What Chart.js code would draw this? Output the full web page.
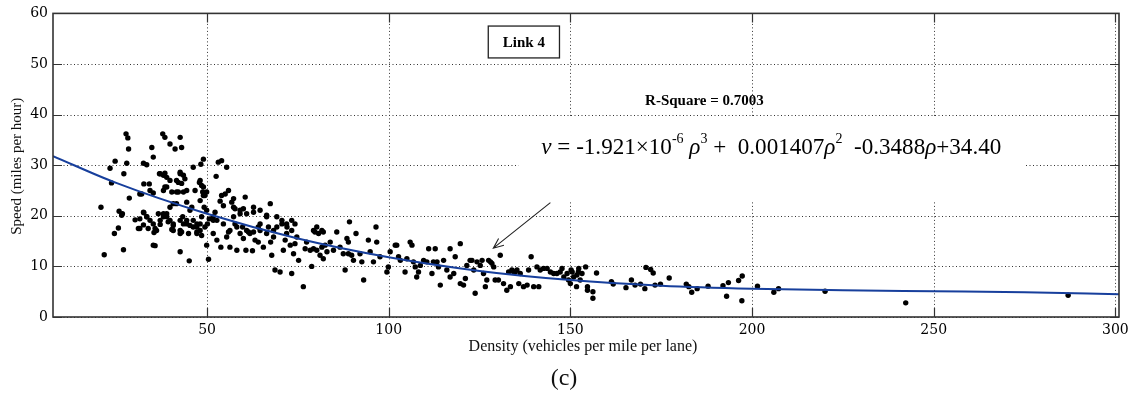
<!DOCTYPE html>
<html>
<head>
<meta charset="utf-8">
<script src="https://cdn.jsdelivr.net/npm/chart.js@4"></script>
<style>
  body { margin: 0; background: #fff; }
</style>
</head>
<body>
<canvas id="speedChart" width="1136" height="399"></canvas>
<script>
// tick labels
var xTicks = [50, 100, 150, 200, 250, 300];
var yTicks = [0, 10, 20, 30, 40, 50, 60];

// observed density / speed points
var density = [
  27.7, 28.2, 28.4, 27.9, 27.1, 23.3, 24.7, 32.5, 33.4, 32.6,
  34.8, 35.2, 36.9, 38.0, 38.9, 38.4, 37.8, 39.8, 41.2, 42.6,
  42.6, 43.0, 42.1, 43.5, 43.0, 46.2, 48.1, 49.0, 48.3, 48.5,
  52.5, 53.1, 54.0, 55.4, 57.3,
  20.8, 21.7, 24.5, 25.6, 25.8, 26.7, 27.0, 28.6, 30.2, 31.1,
  31.5, 32.6, 32.5, 33.4, 34.1, 34.3, 35.2, 35.4, 35.7, 36.1,
  36.6, 37.1, 38.0, 38.4, 38.9, 39.3, 40.3, 40.7, 40.7, 41.6,
  42.6, 43.0, 42.6, 43.3, 44.4, 45.1, 45.3, 45.8, 46.2, 47.2,
  47.2, 48.1, 48.5, 49.0, 49.2, 49.9, 50.1, 49.9, 50.4, 50.6,
  51.7, 52.2, 51.7, 52.7, 53.6, 53.8, 54.0, 54.5, 55.4, 55.9,
  55.9, 56.3, 56.8, 57.3, 57.3, 57.7, 58.2, 59.1, 59.8, 60.0,
  60.5, 60.7, 60.9, 61.4, 61.8, 62.5, 62.8, 63.2, 64.1, 64.1,
  64.6, 65.5, 66.4, 66.9, 67.4, 67.5, 67.8, 68.3, 68.7, 69.2,
  70.1, 70.6, 71.0, 71.5, 71.9, 72.9, 73.3, 73.3, 73.8, 74.2,
  74.7, 75.2,
  38.0, 38.9, 37.1, 39.8, 40.7, 42.6, 43.5, 44.4, 45.3, 46.2,
  47.2, 48.1, 49.4, 40.7, 42.6, 44.9, 47.2, 48.5, 51.7, 52.7,
  54.5, 56.3, 58.2, 59.1, 60.9, 62.8, 64.6, 66.4, 68.3, 55.0,
  57.7, 59.1, 60.0, 62.8, 64.6, 66.4, 69.2, 70.6, 72.0, 37.1,
  38.4, 39.8, 38.9, 38.0, 40.3, 42.1, 41.6, 39.8, 44.4, 42.6,
  43.5, 41.6, 43.9, 44.4, 46.7, 47.9, 49.0, 48.8, 49.4, 48.1,
  49.9, 32.0, 32.5, 31.5, 33.4, 34.3, 35.2, 31.5, 33.8, 35.7,
  35.2, 26.5, 23.7,
  71.9, 73.3, 74.2, 76.5, 77.0, 77.4, 78.4, 78.8, 79.3, 79.7,
  80.2, 80.7, 81.6, 82.0, 79.3, 80.2, 81.1, 82.0, 81.6, 82.5,
  83.0, 83.9, 84.8, 85.7, 86.6, 87.5, 88.0, 88.5, 88.9, 88.9,
  89.2, 89.8, 90.3, 91.0, 92.1, 92.6, 93.1, 94.4, 94.9, 95.8,
  96.5, 96.7, 97.6, 99.5, 99.9, 100.4, 101.8, 102.2, 102.7, 103.2,
  104.5, 105.0, 105.9, 106.4, 106.8, 107.3, 107.7, 108.2, 108.7, 109.6,
  110.5, 111.0, 111.9, 112.3, 112.8, 113.3, 113.7, 114.2, 115.1, 116.0,
  116.9, 116.9, 117.9, 118.3, 119.7, 119.7, 120.6, 121.1, 121.5, 122.4,
  122.9, 123.4, 123.8, 124.3, 125.2, 125.7, 126.1, 126.6, 127.0, 127.5,
  128.0, 128.4, 128.9, 129.3, 130.2, 130.7, 131.6, 132.5, 133.0, 133.5,
  133.9, 134.4, 134.8, 135.3, 135.8, 136.2, 137.1, 138.1, 138.5, 139.2,
  139.9, 140.8, 141.3, 141.7, 142.6, 143.6, 144.5, 145.4, 146.3, 147.2,
  147.7, 148.2, 149.1, 149.5, 150.0, 150.5, 150.9, 151.8, 152.3,
  150.2, 152.2, 152.7, 151.7, 153.2, 154.2, 154.7, 154.7, 156.2, 156.2,
  157.2, 161.3, 161.8, 165.3, 166.8, 167.8, 169.3, 170.8, 172.1, 172.8,
  170.5, 173.3, 174.8, 177.2, 181.9, 182.6, 183.4, 184.9, 187.9, 192.0,
  193.5, 193.0, 196.3, 197.3, 197.2, 201.5, 206.0, 207.3, 220.1, 242.3,
  287.0
];
var speed = [
  36.2, 35.4, 33.2, 30.4, 28.3, 29.4, 30.8, 30.4, 30.1, 26.3,
  33.5, 31.6, 28.3, 28.0, 27.6, 35.5, 36.2, 34.2, 33.2, 35.5,
  28.3, 33.5, 26.6, 24.7, 26.4, 29.6, 27.0, 31.2, 30.2, 26.0,
  27.8, 30.6, 30.9, 29.6, 23.4,
  21.7, 12.3, 16.5, 17.6, 20.9, 20.4, 13.3, 23.5, 19.2, 17.5,
  24.3, 20.6, 18.2, 19.8, 26.3, 25.0, 24.5, 16.7, 14.1, 17.1,
  20.4, 18.3, 19.8, 25.7, 20.4, 18.8, 17.3, 18.1, 22.4, 24.7,
  16.5, 16.8, 12.9, 19.8, 18.4, 11.1, 21.1, 21.7, 17.8, 18.4,
  16.5, 17.1, 19.8, 24.0, 21.7, 24.7, 18.4, 14.2, 11.4, 19.4,
  19.1, 20.7, 16.5, 15.2, 22.9, 13.8, 24.0, 22.0, 15.8, 25.0,
  16.8, 13.8, 22.7, 21.7, 19.8, 18.4, 13.2, 20.4, 17.8, 15.5,
  23.7, 13.2, 20.4, 16.8, 16.5, 13.1, 21.7, 15.2, 17.8, 14.8,
  18.4, 13.8, 20.1, 17.8, 22.4, 14.8, 12.2, 17.1, 9.3, 17.8,
  8.9, 18.4, 13.2, 15.2, 16.5, 14.2, 8.6, 19.1, 12.5, 18.4,
  15.8, 11.2,
  20.4, 19.8, 19.1, 19.1, 18.4, 19.1, 18.4, 19.1, 18.1, 19.1,
  17.8, 18.4, 17.8, 17.1, 17.1, 16.5, 16.8, 16.1, 19.8, 19.1,
  18.4, 17.1, 17.8, 16.5, 17.1, 16.8, 17.1, 16.5, 15.8, 24.3,
  21.4, 21.1, 21.4, 20.7, 21.1, 19.8, 19.8, 19.1, 17.8, 28.3,
  28.4, 27.0, 25.7, 25.0, 24.7, 24.7, 22.4, 21.7, 22.7, 28.6,
  28.0, 27.0, 27.3, 25.0, 25.0, 26.6, 25.7, 24.7, 24.0, 23.0,
  21.1, 24.3, 20.7, 19.4, 19.8, 19.1, 18.4, 17.5, 17.5, 17.5,
  14.2, 20.1, 26.5,
  18.4, 17.1, 14.5, 6.0, 13.5, 14.8, 13.2, 10.0, 17.1, 16.8,
  17.8, 16.5, 17.1, 16.8, 13.5, 13.2, 12.2, 11.5, 13.8, 14.2,
  12.9, 14.8, 13.2, 16.8, 13.8, 12.5, 9.3, 15.5, 14.8, 12.5,
  18.8, 12.2, 11.2, 16.5, 12.5, 10.9, 7.3, 15.2, 12.9, 10.9,
  17.8, 14.8, 11.9, 8.9, 9.9, 12.9, 14.2, 14.2, 11.9, 11.2,
  8.9, 11.5, 14.8, 14.2, 10.9, 9.9, 7.9, 8.9, 10.2, 11.2,
  10.9, 13.5, 8.6, 10.9, 13.5, 10.9, 9.9, 6.3, 11.2, 9.3,
  13.5, 7.9, 8.6, 11.9, 14.5, 6.6, 6.3, 7.6, 10.2, 11.2,
  11.2, 9.3, 4.7, 10.9, 10.2, 11.2, 8.6, 6.0, 7.3, 11.2,
  10.9, 10.6, 9.9, 7.3, 7.3, 12.2, 6.6, 5.3, 8.9, 6.0,
  9.3, 8.9, 8.9, 9.3, 6.6, 8.6, 6.0, 6.3, 9.3, 11.9,
  6.0, 9.9, 6.0, 9.3, 9.6, 9.6, 8.9, 8.6, 8.6, 8.9,
  9.6, 7.9, 8.6, 7.3, 6.6, 8.9, 7.9, 8.3, 9.6,
  9.3, 8.9, 7.3, 6.0, 8.6, 9.9, 6.0, 5.3, 5.0, 3.7,
  8.7, 7.0, 6.5, 5.8, 7.3, 6.3, 6.5, 9.8, 9.4, 8.7,
  5.6, 6.3, 6.5, 7.7, 6.5, 6.0, 4.9, 5.6, 6.1, 6.2,
  6.8, 4.1, 7.2, 8.1, 3.2, 6.1, 4.9, 5.6, 5.1, 2.8,
  4.3
];

// fitted curve
var fitDensity = [7.6, 25, 50, 75, 100, 125, 150, 175, 200, 225, 250, 275, 301];
var fitSpeed = [31.8, 26.5, 20.4, 15.5, 11.8, 9.1, 7.3, 6.2, 5.6, 5.3, 5.1, 4.9, 4.5];

if (density.length !== speed.length) throw new Error("point arrays differ: " + density.length + " vs " + speed.length);

var points = density.map(function (d, i) { return { x: d, y: speed[i] }; });
var fitLine = fitDensity.map(function (d, i) { return { x: d, y: fitSpeed[i] }; });

var serif = "'Liberation Serif', 'Times New Roman', serif";

function drawArrow(ctx, x1, y1, x2, y2) {
  var ang = Math.atan2(y2 - y1, x2 - x1);
  var len = 11;
  ctx.beginPath();
  ctx.moveTo(x1, y1);
  ctx.lineTo(x2, y2);
  ctx.moveTo(x2 - len * Math.cos(ang - 0.4), y2 - len * Math.sin(ang - 0.4));
  ctx.lineTo(x2, y2);
  ctx.lineTo(x2 - len * Math.cos(ang + 0.4), y2 - len * Math.sin(ang + 0.4));
  ctx.stroke();
}

var framePlugin = {
  id: "frame",
  beforeDatasetsDraw: function (chart) {
    var ctx = chart.ctx, a = chart.chartArea;
    var xs = chart.scales.x, ys = chart.scales.y;
    ctx.save();
    ctx.strokeStyle = "#333";
    ctx.lineWidth = 1;
    ctx.setLineDash([1, 2.5]);
    xTicks.forEach(function (v) {
      var px = Math.round(xs.getPixelForValue(v)) + 0.5;
      ctx.beginPath(); ctx.moveTo(px, a.top); ctx.lineTo(px, a.bottom); ctx.stroke();
    });
    yTicks.forEach(function (v) {
      var py = Math.round(ys.getPixelForValue(v)) + 0.5;
      ctx.beginPath(); ctx.moveTo(a.left, py); ctx.lineTo(a.right, py); ctx.stroke();
    });
    ctx.restore();
  },
  afterDatasetsDraw: function (chart) {
    var ctx = chart.ctx, a = chart.chartArea;
    var xs = chart.scales.x, ys = chart.scales.y;
    function P(x, y) { return [xs.getPixelForValue(x), ys.getPixelForValue(y)]; }
    ctx.save();

    // equation box (white background hides the grid)
    var b1 = P(135.7, 39.6), b2 = P(275.1, 23.0);
    ctx.fillStyle = "#fff";
    ctx.fillRect(b1[0], b1[1], b2[0] - b1[0], b2[1] - b1[1]);

    // equation text
    var segs = [
      { t: "v", i: true }, { t: " = -1.921×10" }, { t: "-6", s: true }, { t: " " },
      { t: "ρ", i: true }, { t: "3", s: true }, { t: " +  0.001407" }, { t: "ρ", i: true },
      { t: "2", s: true }, { t: "  -0.3488" }, { t: "ρ", i: true }, { t: "+34.40" }
    ];
    var e1 = P(142.0, 33.5), e2 = P(268.5, 33.5);
    var fs = 22;
    function segFont(sg, size) {
      return (sg.i ? "italic " : "") + (sg.s ? Math.round(size * 0.6) : size) + "px " + serif;
    }
    var w = 0;
    segs.forEach(function (sg) { ctx.font = segFont(sg, fs); w += ctx.measureText(sg.t).width; });
    fs = fs * (e2[0] - e1[0]) / w;
    ctx.fillStyle = "#000";
    ctx.textBaseline = "middle";
    ctx.textAlign = "left";
    var cx = e1[0];
    segs.forEach(function (sg) {
      ctx.font = segFont(sg, fs);
      ctx.fillText(sg.t, cx, e1[1] + (sg.s ? -fs * 0.35 : 0));
      cx += ctx.measureText(sg.t).width;
    });

    // frame box
    ctx.strokeStyle = "#333";
    ctx.lineWidth = 1.6;
    ctx.setLineDash([]);
    ctx.strokeRect(a.left, a.top, a.right - a.left, a.bottom - a.top);

    // inward ticks
    ctx.lineWidth = 1.2;
    var tl = 9;
    xTicks.forEach(function (v) {
      var px = Math.round(xs.getPixelForValue(v)) + 0.5;
      ctx.beginPath();
      ctx.moveTo(px, a.bottom); ctx.lineTo(px, a.bottom - tl);
      ctx.moveTo(px, a.top); ctx.lineTo(px, a.top + tl);
      ctx.stroke();
    });
    yTicks.forEach(function (v) {
      var py = Math.round(ys.getPixelForValue(v)) + 0.5;
      ctx.beginPath();
      ctx.moveTo(a.left, py); ctx.lineTo(a.left + tl, py);
      ctx.moveTo(a.right, py); ctx.lineTo(a.right - tl, py);
      ctx.stroke();
    });

    // Link 4 label box
    var l1 = P(127.4, 57.5), l2 = P(147.0, 51.2);
    ctx.fillStyle = "#fff";
    ctx.fillRect(l1[0], l1[1], l2[0] - l1[0], l2[1] - l1[1]);
    ctx.strokeStyle = "#222";
    ctx.lineWidth = 1.3;
    ctx.strokeRect(l1[0], l1[1], l2[0] - l1[0], l2[1] - l1[1]);
    ctx.fillStyle = "#000";
    ctx.font = "bold 15px " + serif;
    ctx.textAlign = "center";
    ctx.fillText("Link 4", (l1[0] + l2[0]) / 2, (l1[1] + l2[1]) / 2 + 1);

    // R-square
    var r = P(186.9, 42.7);
    ctx.font = "bold 15px " + serif;
    ctx.fillText("R-Square = 0.7003", r[0], r[1]);

    // arrow
    var p1 = P(144.5, 22.6), p2 = P(128.8, 13.6);
    ctx.strokeStyle = "#222";
    ctx.lineWidth = 1.1;
    drawArrow(ctx, p1[0], p1[1], p2[0], p2[1]);

    ctx.restore();
  },
  afterDraw: function (chart) {
    var ctx = chart.ctx, a = chart.chartArea;
    ctx.save();
    ctx.fillStyle = "#111";
    ctx.textAlign = "center";
    ctx.textBaseline = "middle";
    ctx.font = "16px " + serif;
    ctx.fillText("Density (vehicles per mile per lane)", 583, 347);
    ctx.font = "24px " + serif;
    ctx.fillText("(c)", 564, 379);
    ctx.translate(17, (a.top + a.bottom) / 2 + 1);
    ctx.rotate(-Math.PI / 2);
    ctx.font = "15px " + serif;
    ctx.fillText("Speed (miles per hour)", 0, 0);
    ctx.restore();
  }
};

var ctxS = document.getElementById("speedChart").getContext("2d");
var speedChart = new Chart(ctxS, {
  type: "scatter",
  data: {
    datasets: [
      {
        label: "Observed",
        data: points,
        pointRadius: 2.7,
        pointBackgroundColor: "#000",
        pointBorderWidth: 0,
        showLine: false,
        order: 2
      },
      {
        label: "Fit",
        data: fitLine,
        showLine: true,
        pointRadius: 0,
        borderColor: "#173f9c",
        borderWidth: 2,
        cubicInterpolationMode: "monotone",
        order: 1
      }
    ]
  },
  options: {
    responsive: false,
    animation: false,
    layout: { padding: { left: 0, right: 17, top: 12, bottom: 0 } },
    plugins: { legend: { display: false }, tooltip: { enabled: false } },
    scales: {
      x: {
        type: "linear",
        min: 7.6,
        max: 301,
        afterBuildTicks: function (s) { s.ticks = xTicks.map(function (v) { return { value: v }; }); },
        afterFit: function (s) { s.height = 82; },
        grid: { display: false, drawTicks: false },
        border: { display: false },
        ticks: { padding: 5, color: "#000", font: { family: "'DejaVu Serif', serif", size: 14 } }
      },
      y: {
        type: "linear",
        min: 0,
        max: 60,
        afterBuildTicks: function (s) { s.ticks = yTicks.map(function (v) { return { value: v }; }); },
        afterFit: function (s) { s.width = 53; },
        grid: { display: false, drawTicks: false },
        border: { display: false },
        ticks: { padding: 5, color: "#000", font: { family: "'DejaVu Serif', serif", size: 14 } }
      }
    }
  },
  plugins: [framePlugin]
});
</script>
</body>
</html>
